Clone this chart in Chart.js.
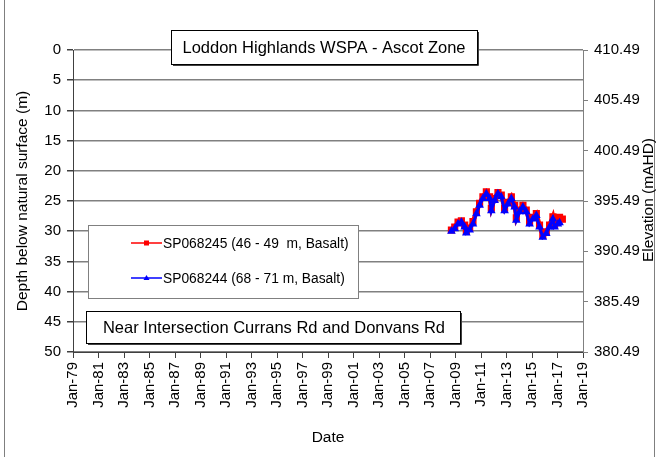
<!DOCTYPE html>
<html>
<head>
<meta charset="utf-8">
<script src="https://cdn.jsdelivr.net/npm/chart.js@4.4.1/dist/chart.umd.min.js"></script>
<style>
  html, body { margin: 0; padding: 0; background: #ffffff; }
  #wrap { width: 658px; height: 457px; position: relative; }
</style>
</head>
<body>
<div id="wrap"><canvas id="c" width="658" height="457"></canvas></div>
<script>
// Bore hydrograph: depth to water below natural surface (m), dates as decimal years
const chartTitle = 'Loddon Highlands WSPA - Ascot Zone';
const siteNote = 'Near Intersection Currans Rd and Donvans Rd';
const xAxisTitle = 'Date';
const leftAxisTitle = 'Depth below natural surface (m)';
const rightAxisTitle = 'Elevation (mAHD)';
const elevationTicks = [380.49, 385.49, 390.49, 395.49, 400.49, 405.49, 410.49];

const seriesNames = ['SP068245 (46 - 49  m, Basalt)', 'SP068244 (68 - 71 m, Basalt)'];

const dateSP068245 = [2008.68, 2008.94, 2009.20, 2009.46, 2009.72, 2009.85, 2010.11, 2010.37, 2010.64, 2010.89,
  2011.15, 2011.42, 2011.68, 2011.81, 2012.07, 2012.33, 2012.59, 2012.85, 2013.11, 2013.38,
  2013.64, 2013.77, 2014.03, 2014.29, 2014.55, 2014.81, 2015.07, 2015.34, 2015.59, 2015.85,
  2016.12, 2016.38, 2016.64, 2016.77, 2017.03, 2017.16, 2017.38];
const depthSP068245 = [29.8, 29.3, 28.5, 28.3, 29.0, 30.0, 29.5, 28.4, 26.8, 25.4,
  24.3, 23.5, 24.3, 26.2, 24.6, 23.6, 24.0, 26.2, 25.2, 24.3,
  25.7, 27.8, 26.5, 25.7, 26.5, 28.4, 27.7, 27.1, 29.0, 30.7,
  30.1, 29.0, 27.6, 29.0, 28.4, 27.7, 28.0];

const dateSP068244 = [2008.68, 2008.94, 2009.20, 2009.46, 2009.72, 2009.85, 2010.11, 2010.37, 2010.64, 2010.89,
  2011.15, 2011.42, 2011.68, 2011.81, 2012.07, 2012.33, 2012.59, 2012.85, 2013.11, 2013.38,
  2013.64, 2013.77, 2014.03, 2014.29, 2014.55, 2014.81, 2015.07, 2015.34, 2015.59, 2015.85,
  2016.12, 2016.38, 2016.64, 2016.77, 2017.03, 2017.16];
const depthSP068244 = [30.0, 29.6, 28.8, 28.5, 29.3, 30.3, 29.8, 28.8, 27.1, 25.7,
  24.6, 23.8, 24.6, 26.6, 24.9, 23.8, 24.3, 26.6, 25.5, 24.6,
  26.0, 28.2, 26.8, 26.0, 26.8, 28.8, 28.0, 27.4, 29.3, 31.0,
  30.4, 29.3, 28.0, 29.3, 28.8, 28.6];

const FONT = "'Liberation Sans', Arial, sans-serif";

function toPoints(xs, ys) { return xs.map((x, i) => ({ x: x, y: ys[i] })); }

function drawBox(ctx, x, y, w, h, color, withShadow) {
  ctx.fillStyle = '#ffffff';
  ctx.fillRect(x, y, w, h);
  if (withShadow) {
    ctx.strokeStyle = '#404040';
    ctx.lineWidth = 1;
    ctx.beginPath();
    ctx.moveTo(x + 1.5, y + h + 1); ctx.lineTo(x + w + 1, y + h + 1); ctx.lineTo(x + w + 1, y + 1.5);
    ctx.stroke();
  }
  ctx.strokeStyle = color;
  ctx.lineWidth = 1;
  ctx.strokeRect(x, y, w, h);
}

// Boxes, legend, right-hand title and outer frame drawn on top of the plot
const annotations = {
  id: 'annotations',
  afterDraw(chart) {
    const ctx = chart.ctx;
    ctx.save();

    // outer frame
    ctx.strokeStyle = '#7f7f7f';
    ctx.lineWidth = 1;
    ctx.beginPath();
    ctx.moveTo(4.5, 0); ctx.lineTo(4.5, 457);
    ctx.moveTo(654.5, 0); ctx.lineTo(654.5, 457);
    ctx.stroke();

    ctx.textAlign = 'center';
    ctx.textBaseline = 'middle';
    ctx.font = '16.5px ' + FONT;

    // title box
    drawBox(ctx, 171.5, 30.5, 306, 34, '#000000', true);
    ctx.fillStyle = '#000000';
    ctx.fillText(chartTitle, 324, 48);

    // site note box
    drawBox(ctx, 86.5, 311.5, 374, 32, '#000000', true);
    ctx.fillStyle = '#000000';
    ctx.fillText(siteNote, 274, 328);

    // legend
    drawBox(ctx, 88.5, 225.5, 270, 73, '#808080', false);
    const ds = chart.data.datasets;
    const rows = [243, 278];
    ctx.font = '13.8px ' + FONT;
    ctx.textAlign = 'left';
    [ds[1], ds[0]].forEach((d, i) => {
      const y = rows[i];
      ctx.strokeStyle = d.borderColor;
      ctx.lineWidth = 1.5;
      ctx.beginPath();
      ctx.moveTo(131, y); ctx.lineTo(162, y);
      ctx.stroke();
      ctx.fillStyle = d.borderColor;
      if (d.pointStyle === 'rect') {
        ctx.fillRect(144, y - 2.5, 5, 5);
      } else {
        ctx.beginPath();
        ctx.moveTo(146.5, y - 3); ctx.lineTo(149.5, y + 2); ctx.lineTo(143.5, y + 2);
        ctx.closePath(); ctx.fill();
      }
      ctx.fillStyle = '#000000';
      ctx.fillText(d.label, 163, y + 1);
    });

    // right axis title, reading bottom to top
    ctx.save();
    ctx.translate(649, chart.chartArea.top + (chart.chartArea.bottom - chart.chartArea.top) / 2 - 1);
    ctx.rotate(-Math.PI / 2);
    ctx.font = '15.5px ' + FONT;
    ctx.textAlign = 'center';
    ctx.textBaseline = 'middle';
    ctx.fillStyle = '#000000';
    ctx.fillText(rightAxisTitle, 0, 0);
    ctx.restore();

    ctx.restore();
  }
};

const cfg = {
  type: 'line',
  data: {
    datasets: [
      {
        label: seriesNames[1],
        data: toPoints(dateSP068244, depthSP068244),
        borderColor: '#0000ff',
        backgroundColor: '#0000ff',
        borderWidth: 3,
        pointStyle: 'triangle',
        pointRadius: 3.5,
        pointBorderWidth: 1.5,
        order: 0
      },
      {
        label: seriesNames[0],
        data: toPoints(dateSP068245, depthSP068245),
        borderColor: '#ff0000',
        backgroundColor: '#ff0000',
        borderWidth: 4.5,
        pointStyle: 'rect',
        pointRadius: 4,
        pointBorderWidth: 1.5,
        order: 1
      }
    ]
  },
  options: {
    responsive: false,
    animation: false,
    layout: { padding: { top: 50, left: 0, right: 0, bottom: 0 } },
    plugins: { legend: { display: false }, tooltip: { enabled: false } },
    scales: {
      x: {
        type: 'linear',
        min: 1979,
        max: 2019,
        afterFit(s) { s.height = 105; },
        ticks: {
          stepSize: 2,
          autoSkip: false,
          maxRotation: 90,
          minRotation: 90,
          padding: 4,
          color: '#000000',
          font: { family: FONT, size: 15 },
          callback(v) { return 'Jan-' + String(Math.round(v) % 100).padStart(2, '0'); }
        },
        grid: { drawOnChartArea: false, drawTicks: true, tickLength: 6, color: '#404040', lineWidth: 1 },
        border: { color: '#404040', width: 1 },
        title: { display: true, text: xAxisTitle, color: '#000000', font: { family: FONT, size: 15.5 }, padding: { top: 0, bottom: 10 } }
      },
      y: {
        position: 'left',
        reverse: true,
        min: 0,
        max: 50,
        afterFit(s) { s.width = 73; },
        ticks: { stepSize: 5, padding: 6, color: '#000000', font: { family: FONT, size: 15 } },
        grid: { color: '#808080', lineWidth: 1.5, tickLength: 6, tickColor: '#404040' },
        border: { color: '#404040', width: 1 },
        title: { display: true, text: leftAxisTitle, color: '#000000', font: { family: FONT, size: 15.5 }, padding: { top: 13, bottom: 0 } }
      },
      y2: {
        position: 'right',
        min: elevationTicks[0],
        max: elevationTicks[elevationTicks.length - 1],
        afterFit(s) { s.width = 75; },
        afterBuildTicks(s) { s.ticks = elevationTicks.map(v => ({ value: v })); },
        ticks: {
          padding: 6,
          color: '#000000',
          font: { family: FONT, size: 15 },
          callback(v) { return v.toFixed(2); }
        },
        grid: { drawOnChartArea: false, tickLength: 5, color: '#808080' },
        border: { color: '#808080', width: 1 }
      }
    }
  },
  plugins: [annotations]
};

new Chart(document.getElementById('c'), cfg);
</script>
</body>
</html>
